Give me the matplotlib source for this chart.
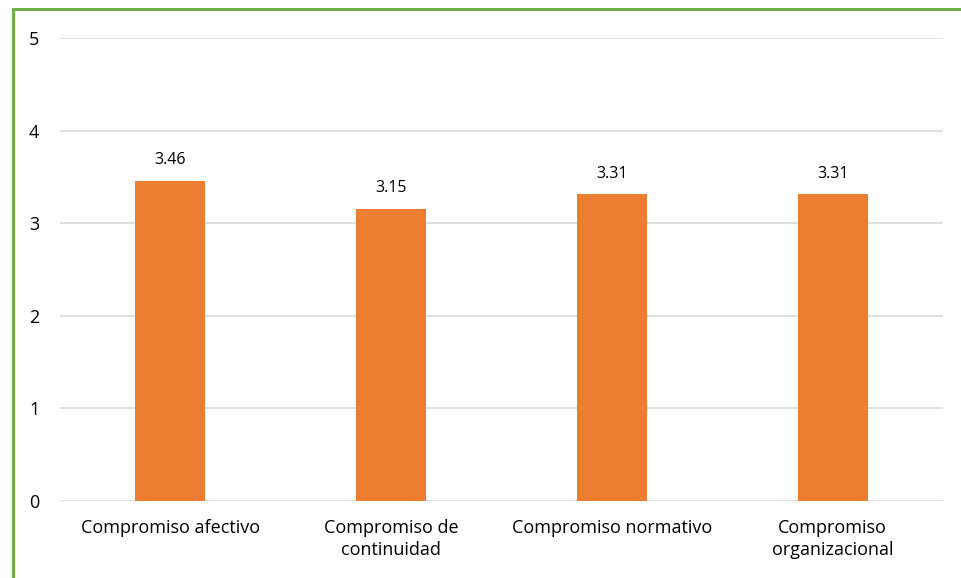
import matplotlib.pyplot as plt
from matplotlib.lines import Line2D
import numpy as np

plt.rcParams['font.family'] = ['Open Sans', 'DejaVu Sans']

categories = ['Compromiso afectivo', 'Compromiso de\ncontinuidad',
              'Compromiso normativo', 'Compromiso\norganizacional']
values = [3.46, 3.15, 3.31, 3.31]

fig = plt.figure(figsize=(9.62, 5.78), dpi=100)
ax = fig.add_axes([0.0624, 0.1332, 0.9178, 0.8011])

x = np.arange(len(categories))
bars = ax.bar(x, values, width=0.317, color='#ED7D31', zorder=3)

ax.set_xlim(-0.5, len(categories) - 0.5)
ax.set_ylim(0, 5)
ax.set_yticks(range(6))
ax.yaxis.grid(True, color='#D9D9D9', linewidth=1.2, zorder=0)
ax.set_xticks(x)
ax.set_xticklabels(categories, fontsize=13, color='#000000', linespacing=1.3)
ax.tick_params(axis='y', labelsize=13, length=0, pad=15)
ax.tick_params(axis='x', length=0, pad=13)
for s in ax.spines.values():
    s.set_visible(False)

for rect, v in zip(bars, values):
    ax.text(rect.get_x() + rect.get_width() / 2., v + 0.14, '%.2f' % v,
            ha='center', va='bottom', fontsize=11.5)

# green frame on top and left edges
fig.add_artist(Line2D([12.5 / 962, 12.5 / 962], [0, 1 - 9 / 578],
                      transform=fig.transFigure, color='#70AD47', linewidth=2.2))
fig.add_artist(Line2D([12.5 / 962, 1], [1 - 9 / 578, 1 - 9 / 578],
                      transform=fig.transFigure, color='#70AD47', linewidth=2.2))

fig.savefig('out.png', dpi=100)
